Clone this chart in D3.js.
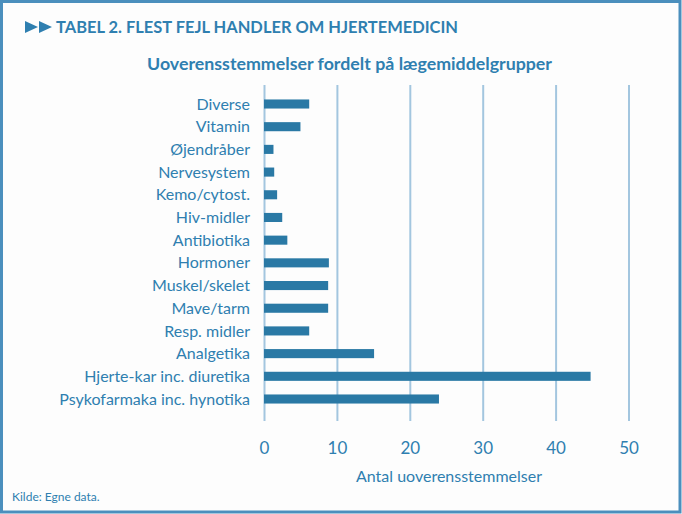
<!DOCTYPE html>
<html>
<head>
<meta charset="utf-8">
<script src="https://cdn.jsdelivr.net/npm/d3@7"></script>
<style>
  body { margin: 0; background: #fff; }
  svg { display: block; }
</style>
</head>
<body>
<svg id="chart" width="682" height="514"></svg>
<script>
const categories = ["Diverse", "Vitamin", "Øjendråber", "Nervesystem", "Kemo/cytost.", "Hiv-midler",
  "Antibiotika", "Hormoner", "Muskel/skelet", "Mave/tarm", "Resp. midler", "Analgetika",
  "Hjerte-kar inc. diuretika", "Psykofarmaka inc. hynotika"];
const values = [6.2, 5.0, 1.3, 1.4, 1.8, 2.5, 3.2, 8.9, 8.8, 8.8, 6.2, 15.1, 44.8, 24.0];
const xTicks = [0, 10, 20, 30, 40, 50];

const title = "TABEL 2. FLEST FEJL HANDLER OM HJERTEMEDICIN";
const subtitle = "Uoverensstemmelser fordelt på lægemiddelgrupper";
const xTitle = "Antal uoverensstemmelser";
const source = "Kilde: Egne data.";

const blue = "#2f7fb0";
const barBlue = "#2a79a5";
const gridBlue = "#a3c6df";

let svg = d3.select("#chart");

// frame
svg.append("rect").attr("x", 1.5).attr("y", 1.5).attr("width", 678.5).attr("height", 510.5)
  .attr("fill", "#fdfdfd").attr("stroke", "#4b8fbd").attr("stroke-width", 3);

// title with arrows
svg.append("path").attr("d", "M25,21 L38,27 L25,33 Z M39,21 L52,27 L39,33 Z").attr("fill", blue);
svg.append("text").attr("x", 56).attr("y", 33).text(title)
  .attr("font-family", "Lato, sans-serif").attr("font-weight", "bold").attr("font-size", 17)
  .attr("textLength", 402).attr("lengthAdjust", "spacingAndGlyphs").attr("fill", blue);

svg.append("text").attr("x", 147).attr("y", 70).text(subtitle)
  .attr("font-family", "Lato, sans-serif").attr("font-weight", "bold").attr("font-size", 17)
  .attr("textLength", 405).attr("lengthAdjust", "spacingAndGlyphs").attr("fill", blue);

const x = d3.scaleLinear().domain([0, 50]).range([264, 628.5]);
const y = d3.scaleBand().domain(categories).range([92.65, 410.35]).paddingInner(0.6).paddingOuter(0.3);

const gTop = 85, gBottom = 421;

// grid / axis
let xAxis = svg.append("g").attr("transform", `translate(0,${gBottom})`)
  .call(d3.axisBottom(x).tickValues(xTicks).tickSize(-(gBottom - gTop)).tickFormat(d3.format("d")));
xAxis.select(".domain").remove();
xAxis.selectAll(".tick line").attr("stroke", gridBlue).attr("stroke-width", 2);
xAxis.selectAll(".tick text").attr("y", 33).attr("dy", null)
  .attr("font-family", "Lato, sans-serif").attr("font-size", 17).attr("fill", blue);

// bars
svg.selectAll("rect.bar").data(categories).enter().append("rect").attr("class", "bar")
  .attr("x", x(0))
  .attr("y", d => y(d))
  .attr("width", (d, i) => x(values[i]) - x(0))
  .attr("height", y.bandwidth())
  .attr("fill", barBlue);

// category labels
svg.selectAll("text.cat").data(categories).enter().append("text").attr("class", "cat")
  .attr("x", 250).attr("y", d => y(d) + y.bandwidth() / 2).attr("dy", "0.35em")
  .attr("text-anchor", "end").text(d => d)
  .attr("font-family", "Lato, sans-serif").attr("font-size", 16).attr("fill", blue);

svg.append("text").attr("x", 449).attr("y", 482).attr("text-anchor", "middle").text(xTitle)
  .attr("font-family", "Lato, sans-serif").attr("font-size", 16).attr("fill", blue);

svg.append("text").attr("x", 12).attr("y", 501).text(source)
  .attr("font-family", "Lato, sans-serif").attr("font-size", 12).attr("fill", blue);
</script>
</body>
</html>
